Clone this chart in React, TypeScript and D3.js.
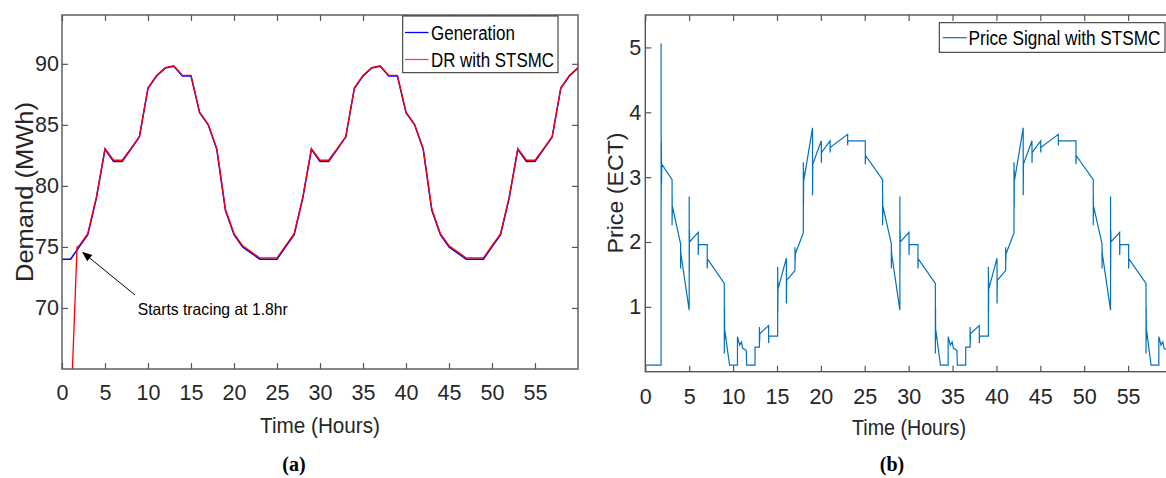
import React, { useEffect, useRef } from 'react';
import * as d3 from 'd3';

// panel (a): demand tracking
const hours = [
  0, 1, 2, 3, 4, 5, 6, 7, 8, 9, 10, 11, 12, 13, 14, 15, 16, 17, 18, 19, 20,
  21, 22, 23, 24, 25, 26, 27, 28, 29, 30, 31, 32, 33, 34, 35, 36, 37, 38, 39, 40,
  41, 42, 43, 44, 45, 46, 47, 48, 49, 50, 51, 52, 53, 54, 55, 56, 57, 58, 59, 60,
];
const generation = [
  74, 74, 75, 76, 79, 83, 82, 82, 83, 84, 88, 89, 89.65, 89.8, 89, 89, 86, 85, 83, 78, 76, 75, 74.5, 74,
  74, 74, 75, 76, 79, 83, 82, 82, 83, 84, 88, 89, 89.65, 89.8, 89, 89, 86, 85, 83, 78, 76, 75, 74.5, 74,
  74, 74, 75, 76, 79, 83, 82, 82, 83, 84, 88, 89, 89.65,
];
const drHours = [
  0, 1, 1.75, 2, 3, 4, 5, 6, 7, 8, 9, 10, 11, 12, 13, 14, 15, 16, 17, 18, 19, 20,
  21, 22, 23, 24, 25, 26, 27, 28, 29, 30, 31, 32, 33, 34, 35, 36, 37, 38, 39, 40,
  41, 42, 43, 44, 45, 46, 47, 48, 49, 50, 51, 52, 53, 54, 55, 56, 57, 58, 59, 60,
];
const drDemand = [
  40, 61, 75,
  75.1, 76.1, 79.1, 83.05, 82.1, 82.1, 83.05, 84.05, 88.05, 89.05, 89.7, 89.85, 89.05, 89.05, 86.05, 85.05, 83.05, 78.1, 76.1, 75.1, 74.6, 74.1,
  74.1, 74.1, 75.1, 76.1, 79.1, 83.05, 82.1, 82.1, 83.05, 84.05, 88.05, 89.05, 89.7, 89.85, 89.05, 89.05, 86.05, 85.05, 83.05, 78.1, 76.1, 75.1, 74.6, 74.1,
  74.1, 74.1, 75.1, 76.1, 79.1, 83.05, 82.1, 82.1, 83.05, 84.05, 88.05, 89.05, 89.7,
];

// panel (b): price signal, [hour, price]
const priceSignal: [number, number][] = [
  [0, 0.1], [1.8, 0.1], [1.8, 5.06], [1.81, 2.6], [1.83, 3.54], [1.85, 2.9], [1.88, 3.2], [3.05, 2.96],
  [3.05, 2.26], [3.06, 2.7], [3.07, 2.4], [3.09, 2.55], [4.02, 1.97], [4.02, 1.59], [4.03, 1.9], [4.05, 1.82],
  [5.0, 0.95], [5.0, 2.7], [5.01, 1.52], [5.03, 2.18], [5.05, 2.0], [6.03, 2.15], [6.03, 1.8], [6.06, 1.96],
  [7.05, 1.96], [7.05, 1.59], [7.08, 1.74], [9.0, 1.36], [9.0, 0.28], [9.02, 1.0], [9.04, 0.5], [9.06, 0.64],
  [9.6, 0.1], [10.5, 0.1], [10.5, 0.54], [10.75, 0.41], [10.95, 0.46], [11.1, 0.36], [11.5, 0.33], [11.55, 0.1],
  [12.5, 0.1], [12.5, 0.38], [13.0, 0.38], [13.0, 0.69], [13.02, 0.46], [13.05, 0.59], [14.05, 0.71], [14.05, 0.44],
  [14.08, 0.55], [15.08, 0.55], [15.08, 1.62], [15.1, 0.92], [15.12, 1.4], [15.14, 1.28], [16.07, 1.75], [16.07, 1.05],
  [16.1, 1.41], [17.05, 1.56], [17.05, 1.92], [17.07, 1.69], [17.1, 1.82], [18.0, 2.14], [18.0, 3.23], [18.02, 2.54],
  [18.04, 3.1], [18.06, 2.95], [19.05, 3.76], [19.05, 2.72], [19.08, 3.2], [20.05, 3.56], [20.05, 3.22], [20.08, 3.38],
  [21.05, 3.56], [21.05, 3.38], [21.08, 3.46], [23.05, 3.66], [23.05, 3.49], [23.08, 3.56], [25.06, 3.56],
  [25.06, 3.2], [25.1, 3.33], [27.03, 2.96], [27.03, 2.26], [27.04, 2.7], [27.05, 2.4], [27.07, 2.55], [28.03, 1.97],
  [28.03, 1.59], [28.04, 1.9], [28.06, 1.82], [29.0, 0.95], [29.0, 2.7], [29.01, 1.52], [29.03, 2.18], [29.05, 2.0],
  [30.04, 2.15], [30.04, 1.8], [30.07, 1.96], [31.06, 1.96], [31.06, 1.59], [31.09, 1.74], [33.04, 1.36], [33.04, 0.28],
  [33.06, 1.0], [33.08, 0.5], [33.1, 0.64], [33.62, 0.1], [34.5, 0.1], [34.5, 0.54], [34.75, 0.41], [34.95, 0.46],
  [35.1, 0.36], [35.5, 0.33], [35.55, 0.1], [36.5, 0.1], [36.5, 0.38], [37.0, 0.38], [37.0, 0.69], [37.02, 0.46],
  [37.05, 0.59], [38.05, 0.71], [38.05, 0.44], [38.08, 0.55], [39.08, 0.55], [39.08, 1.62], [39.1, 0.92], [39.12, 1.4],
  [39.14, 1.28], [40.07, 1.75], [40.07, 1.05], [40.1, 1.41], [41.05, 1.56], [41.05, 1.92], [41.07, 1.69], [41.1, 1.82],
  [42.0, 2.14], [42.0, 3.23], [42.02, 2.54], [42.04, 3.1], [42.06, 2.95], [43.05, 3.76], [43.05, 2.72], [43.08, 3.2],
  [44.05, 3.56], [44.05, 3.22], [44.08, 3.38], [45.05, 3.56], [45.05, 3.38], [45.08, 3.46], [47.05, 3.66], [47.05, 3.49],
  [47.08, 3.56], [49.06, 3.56],
  [49.06, 3.2], [49.1, 3.33], [51.03, 2.96], [51.03, 2.26], [51.04, 2.7], [51.05, 2.4], [51.07, 2.55], [52.03, 1.97],
  [52.03, 1.59], [52.04, 1.9], [52.06, 1.82], [53.0, 0.95], [53.0, 2.7], [53.01, 1.52], [53.03, 2.18], [53.05, 2.0],
  [54.04, 2.15], [54.04, 1.8], [54.07, 1.96], [55.06, 1.96], [55.06, 1.59], [55.09, 1.74], [57.04, 1.36], [57.04, 0.28],
  [57.06, 1.0], [57.08, 0.5], [57.1, 0.64], [57.62, 0.1], [58.5, 0.1], [58.5, 0.54], [58.75, 0.41], [58.95, 0.46],
  [59.1, 0.36], [59.5, 0.33], [59.55, 0.1], [60, 0.1],
];

const hourTicks = [0, 5, 10, 15, 20, 25, 30, 35, 40, 45, 50, 55];
const demandTicks = [70, 75, 80, 85, 90];
const priceTicks = [1, 2, 3, 4, 5];

const FONT = '"Liberation Sans", Arial, Helvetica, sans-serif';
const AXIS = '#555';
const TEXT = '#262626';

const styleAxis = (sel: any) => {
  sel.select('.domain').remove();
  sel.selectAll('line').attr('stroke', AXIS).attr('stroke-width', 1.2);
  sel.selectAll('text').attr('font-family', FONT).attr('font-size', 21.5).attr('fill', TEXT);
};

const App = () => {
  const svgRef = useRef<SVGSVGElement>(null);

  useEffect(() => {
    const svg = d3.select(svgRef.current);
    svg.selectAll('*').remove();
    const defs = svg.append('defs');

    // ---------- (a) ----------
    const xA = d3.scaleLinear().domain([0, 60]).range([62, 578]);
    const yA = d3.scaleLinear().domain([65, 94]).range([369, 15]);
    defs.append('clipPath').attr('id', 'clipA').append('rect')
      .attr('x', 62).attr('y', 15).attr('width', 516).attr('height', 354);

    const ga = svg.append('g');
    ga.append('path')
      .datum(generation)
      .attr('clip-path', 'url(#clipA)')
      .attr('d', d3.line<number>().x((_, i) => xA(hours[i])).y(d => yA(d)))
      .attr('fill', 'none').attr('stroke', '#0000ff').attr('stroke-width', 1.5);
    ga.append('path')
      .datum(drDemand)
      .attr('clip-path', 'url(#clipA)')
      .attr('d', d3.line<number>().x((_, i) => xA(drHours[i])).y(d => yA(d)))
      .attr('fill', 'none').attr('stroke', '#ff0000').attr('stroke-width', 1.3);

    ga.append('g').attr('transform', 'translate(0,369)')
      .call(d3.axisBottom(xA).tickValues(hourTicks).tickSizeInner(-6).tickSizeOuter(0).tickPadding(16))
      .call(styleAxis);
    ga.append('g').attr('transform', 'translate(0,15)')
      .call(d3.axisTop(xA).tickValues(hourTicks).tickSizeInner(-6).tickSizeOuter(0).tickFormat(() => ''))
      .call(styleAxis);
    ga.append('g').attr('transform', 'translate(62,0)')
      .call(d3.axisLeft(yA).tickValues(demandTicks).tickSizeInner(-6).tickSizeOuter(0).tickPadding(3))
      .call(styleAxis);
    ga.append('g').attr('transform', 'translate(578,0)')
      .call(d3.axisRight(yA).tickValues(demandTicks).tickSizeInner(-6).tickSizeOuter(0).tickFormat(() => ''))
      .call(styleAxis);
    ga.append('rect').attr('x', 62).attr('y', 15).attr('width', 516).attr('height', 354)
      .attr('fill', 'none').attr('stroke', AXIS).attr('stroke-width', 1.4);

    ga.append('text').attr('x', 320).attr('y', 432.5).attr('text-anchor', 'middle')
      .attr('font-family', FONT).attr('font-size', 22).attr('fill', TEXT)
      .attr('textLength', 120).attr('lengthAdjust', 'spacingAndGlyphs')
      .text('Time (Hours)');
    ga.append('text').attr('transform', 'translate(32.5,192) rotate(-90)').attr('text-anchor', 'middle')
      .attr('font-family', FONT).attr('font-size', 23).attr('fill', TEXT)
      .attr('textLength', 180).attr('lengthAdjust', 'spacingAndGlyphs')
      .text('Demand (MWh)');

    // annotation
    const tail: [number, number] = [xA(8.49), yA(71.06)];
    const head: [number, number] = [xA(2.33), yA(74.6)];
    const ang = Math.atan2(head[1] - tail[1], head[0] - tail[0]);
    const hl = 10, hw = 4;
    const bx = head[0] - hl * Math.cos(ang), by = head[1] - hl * Math.sin(ang);
    ga.append('line')
      .attr('x1', tail[0]).attr('y1', tail[1]).attr('x2', bx).attr('y2', by)
      .attr('stroke', '#000').attr('stroke-width', 1);
    ga.append('polygon')
      .attr('points', [
        head,
        [bx + hw * Math.sin(ang), by - hw * Math.cos(ang)],
        [bx - hw * Math.sin(ang), by + hw * Math.cos(ang)],
      ].map(p => p.join(',')).join(' '))
      .attr('fill', '#000');
    ga.append('text').attr('x', xA(8.8)).attr('y', yA(69.46))
      .attr('font-family', FONT).attr('font-size', 16.5).attr('fill', '#000')
      .attr('textLength', 150).attr('lengthAdjust', 'spacingAndGlyphs')
      .text('Starts tracing at 1.8hr');

    // legend (a)
    const la = ga.append('g');
    la.append('rect').attr('x', 402.7).attr('y', 16).attr('width', 155.3).attr('height', 56.7)
      .attr('fill', '#fff').attr('stroke', '#262626').attr('stroke-width', 1);
    [
      { label: 'Generation', color: '#0000ff', y: 32.5, w: 84 },
      { label: 'DR with STSMC', color: '#ff4040', y: 59.5, w: 123 },
    ].forEach(e => {
      la.append('line').attr('x1', 405).attr('x2', 428.5).attr('y1', e.y).attr('y2', e.y)
        .attr('stroke', e.color).attr('stroke-width', 1.3);
      la.append('text').attr('x', 431).attr('y', e.y + 7.5)
        .attr('font-family', FONT).attr('font-size', 20).attr('fill', '#000')
        .attr('textLength', e.w).attr('lengthAdjust', 'spacingAndGlyphs')
        .text(e.label);
    });

    svg.append('text').attr('x', 294).attr('y', 471).attr('text-anchor', 'middle')
      .attr('font-family', '"Liberation Serif", "Times New Roman", serif').attr('font-size', 20)
      .attr('font-weight', 'bold').attr('fill', '#000').text('(a)');

    // ---------- (b) ----------
    const xB = d3.scaleLinear().domain([0, 60]).range([645.3, 1172]);
    const yB = d3.scaleLinear().domain([0, 5.5]).range([371.7, 15]);
    defs.append('clipPath').attr('id', 'clipB').append('rect')
      .attr('x', 645.3).attr('y', 15).attr('width', 526.7).attr('height', 356.7);

    const gb = svg.append('g');
    gb.append('path')
      .datum(priceSignal)
      .attr('clip-path', 'url(#clipB)')
      .attr('d', d3.line<[number, number]>().x(d => xB(d[0])).y(d => yB(d[1])))
      .attr('fill', 'none').attr('stroke', '#0072bd').attr('stroke-width', 1.2)
      .attr('stroke-linejoin', 'miter');

    gb.append('g').attr('transform', 'translate(0,371.7)')
      .call(d3.axisBottom(xB).tickValues(hourTicks).tickSizeInner(-6).tickSizeOuter(0).tickPadding(17))
      .call(styleAxis);
    gb.append('g').attr('transform', 'translate(0,15)')
      .call(d3.axisTop(xB).tickValues(hourTicks).tickSizeInner(-6).tickSizeOuter(0).tickFormat(() => ''))
      .call(styleAxis);
    gb.append('g').attr('transform', 'translate(645.3,0)')
      .call(d3.axisLeft(yB).tickValues(priceTicks).tickFormat(d3.format('d')).tickSizeInner(-6).tickSizeOuter(0).tickPadding(4))
      .call(styleAxis);
    gb.append('rect').attr('x', 645.3).attr('y', 15).attr('width', 526.7).attr('height', 356.7)
      .attr('fill', 'none').attr('stroke', AXIS).attr('stroke-width', 1.4);

    gb.append('text').attr('x', 909).attr('y', 434.5).attr('text-anchor', 'middle')
      .attr('font-family', FONT).attr('font-size', 22).attr('fill', TEXT)
      .attr('textLength', 114).attr('lengthAdjust', 'spacingAndGlyphs')
      .text('Time (Hours)');
    gb.append('text').attr('transform', 'translate(623,193) rotate(-90)').attr('text-anchor', 'middle')
      .attr('font-family', FONT).attr('font-size', 22).attr('fill', TEXT)
      .attr('textLength', 121).attr('lengthAdjust', 'spacingAndGlyphs')
      .text('Price (ECT)');

    // legend (b) – narrow glyphs, stretched vertically so the text fits the box
    const lb = gb.append('g');
    lb.append('rect').attr('x', 939.3).attr('y', 22.7).attr('width', 225.7).attr('height', 29.6)
      .attr('fill', '#fff').attr('stroke', '#262626').attr('stroke-width', 1);
    lb.append('line').attr('x1', 942.7).attr('x2', 966.7).attr('y1', 37.7).attr('y2', 37.7)
      .attr('stroke', '#0072bd').attr('stroke-width', 1.2);
    lb.append('text').attr('transform', 'translate(968.5,45.3) scale(1,1.17)')
      .attr('font-family', FONT).attr('font-size', 17.2).attr('fill', '#000')
      .text('Price Signal with STSMC');

    svg.append('text').attr('x', 892).attr('y', 471).attr('text-anchor', 'middle')
      .attr('font-family', '"Liberation Serif", "Times New Roman", serif').attr('font-size', 20)
      .attr('font-weight', 'bold').attr('fill', '#000').text('(b)');
  }, []);

  return (
    <svg
      ref={svgRef}
      width={1166}
      height={478}
      style={{ position: 'absolute', left: 0, top: 0, background: '#fff' }}
    />
  );
};

export default App;
